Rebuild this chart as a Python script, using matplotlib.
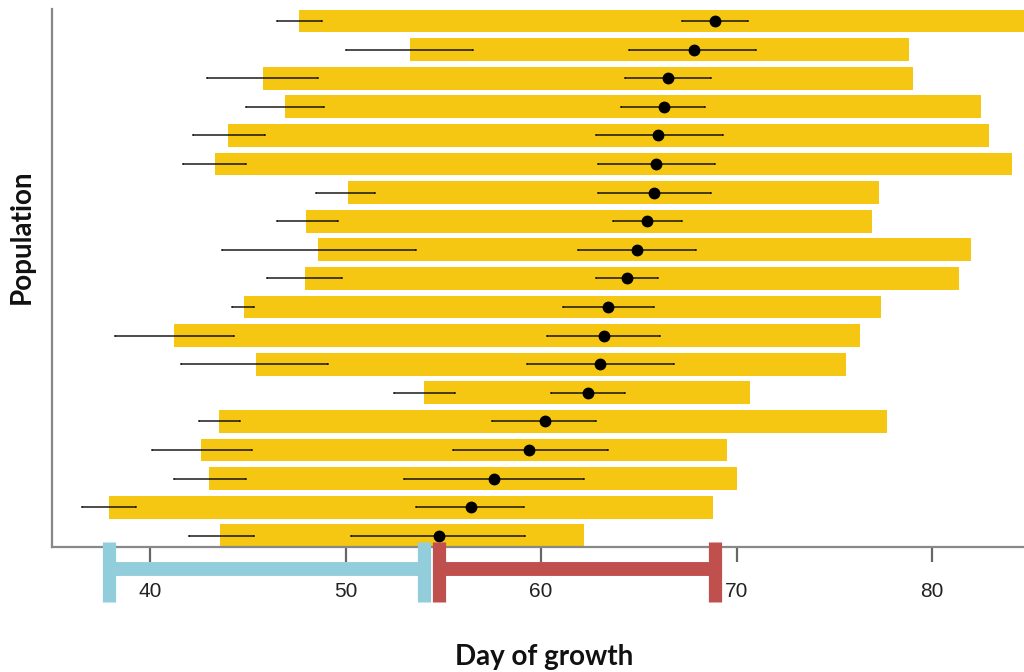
import matplotlib
matplotlib.use("Agg")
import matplotlib.pyplot as plt
import matplotlib.transforms as mtransforms
import numpy as np

# Growth windows per population, listed top to bottom
start = [47.6, 53.3, 45.8, 46.9, 44.0, 43.3, 50.1, 48.0, 48.6, 47.9,
         44.8, 41.2, 45.4, 54.0, 43.5, 42.6, 43.0, 37.9, 43.6]
end = [86.0, 78.8, 79.0, 82.5, 82.9, 84.1, 77.3, 76.9, 82.0, 81.4,
       77.4, 76.3, 75.6, 70.7, 77.7, 69.5, 70.0, 68.8, 62.2]
start_lo = [46.5, 50.0, 42.9, 44.9, 42.2, 41.7, 48.5, 46.5, 43.7, 46.0,
            44.2, 38.2, 41.6, 52.5, 42.5, 40.1, 41.2, 36.5, 42.0]
start_hi = [48.8, 56.5, 48.6, 48.9, 45.9, 44.9, 51.5, 49.6, 53.6, 49.8,
            45.3, 44.3, 49.1, 55.6, 44.6, 45.2, 44.9, 39.3, 45.3]
peak = [68.9, 67.8, 66.5, 66.3, 66.0, 65.9, 65.8, 65.4, 64.9, 64.4,
        63.4, 63.2, 63.0, 62.4, 60.2, 59.4, 57.6, 56.4, 54.8]
peak_lo = [67.2, 64.5, 64.3, 64.1, 62.8, 62.9, 62.9, 63.7, 61.9, 62.8,
           61.1, 60.3, 59.3, 60.5, 57.5, 55.5, 53.0, 53.6, 50.3]
peak_hi = [70.6, 71.0, 68.7, 68.4, 69.3, 68.9, 68.7, 67.2, 67.9, 66.0,
           65.8, 66.1, 66.8, 64.3, 62.8, 63.4, 62.2, 59.1, 59.2]
xticks = [40, 50, 60, 70, 80]

BAR = "#F5C612"
BLUE = "#92CDDC"
RED = "#C0504D"

start = np.array(start); end = np.array(end)
start_lo = np.array(start_lo); start_hi = np.array(start_hi)
peak = np.array(peak); peak_lo = np.array(peak_lo); peak_hi = np.array(peak_hi)
n = len(start)
y = np.arange(n)[::-1]

fig = plt.figure(figsize=(10.24, 6.72), dpi=100)
ax = fig.add_axes([0.0511, 0.1856, 0.9489, 0.801])

ax.barh(y, end - start, left=start, height=0.8, color=BAR, zorder=1)

err_kw = dict(fmt="none", ecolor="black", alpha=0.7, elinewidth=1.4,
              capsize=1.0, capthick=1.2, zorder=3)
ax.errorbar(start, y, xerr=[start - start_lo, start_hi - start], **err_kw)
ax.errorbar(peak, y, xerr=[peak - peak_lo, peak_hi - peak], **err_kw)
ax.plot(peak, y, "o", color="black", markersize=7.5, zorder=4)

ax.set_xlim(35, 84.7)
ax.set_ylim(-0.4, 18.42)
ax.set_yticks([])
ax.set_xticks(xticks)
ax.set_xticklabels([str(t) for t in xticks], fontfamily="Liberation Sans",
                   fontsize=15, color="#222222")
ax.tick_params(axis="x", length=11, width=1.6, color="#666666", pad=14)

for side in ("top", "right"):
    ax.spines[side].set_visible(False)
for side in ("left", "bottom"):
    ax.spines[side].set_color("#888888")
    ax.spines[side].set_linewidth(1.6)

# Brackets below the axis: range of onset days and range of peak days
tr = mtransforms.blended_transform_factory(ax.transData, ax.transAxes)

def bracket(x0, x1, color):
    kw = dict(color=color, transform=tr, clip_on=False,
              solid_capstyle="butt", zorder=6)
    ax.plot([x0, x1], [-0.0403, -0.0403], linewidth=10, **kw)
    ax.plot([x0, x0], [0.0104, -0.1016], linewidth=9.5, **kw)
    ax.plot([x1, x1], [0.0104, -0.1016], linewidth=9.5, **kw)

bracket(start.min(), start.max(), BLUE)
bracket(peak.min(), peak.max(), RED)

fig.text(0.531, 0.011, "Day of growth", ha="center", va="baseline",
         fontfamily="Lato", fontweight="bold", fontsize=20, color="#111111")
fig.text(0.021, 0.647, "Population", ha="center", va="center", rotation=90,
         fontfamily="Lato", fontweight="bold", fontsize=20, color="#111111")

fig.savefig("out.png", dpi=100)
